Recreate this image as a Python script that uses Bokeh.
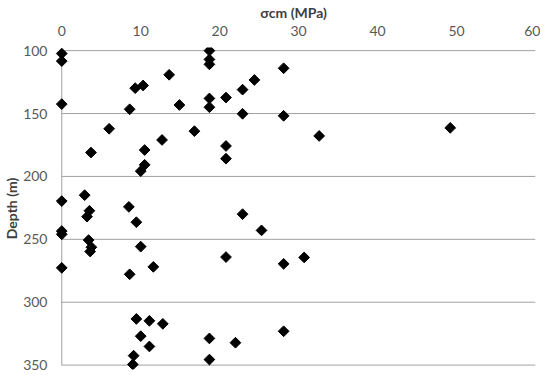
from bokeh.plotting import figure
from bokeh.models import Range1d, FixedTicker
from bokeh.embed import file_html
from bokeh.resources import INLINE
import math

sigma_cm = [0, 0, 0, 18.7, 18.7, 18.7, 13.6, 9.3, 10.3, 14.9, 18.7, 18.7, 20.8, 22.9, 24.4,
            22.9, 8.6, 6.0, 3.7, 10.5, 12.7, 16.8, 20.8, 20.8, 10.5, 10.0, 28.1, 28.1, 32.6, 49.2,
            0, 2.9, 3.5, 3.2, 8.5, 9.45, 0, 0, 3.4, 3.75, 3.6, 10.0, 0, 8.6, 11.6, 20.8, 22.9, 25.3,
            9.45, 11.1, 12.8, 10.0, 11.1, 9.1, 9.0, 18.7, 18.7, 22.0, 28.1, 30.7, 28.1]
depth = [102.3, 108.3, 142.5, 100, 107, 110.9, 119.2, 129.8, 127.7, 143.2, 138, 145, 137.3, 131, 123.3,
         150.2, 146.6, 162.1, 181, 179, 171, 164, 175.8, 185.9, 190.8, 195.8, 114, 151.8, 167.8, 161.4,
         219.6, 214.9, 227.3, 232, 224.2, 236.4, 243.4, 246, 250.6, 256.3, 259.7, 255.8, 272.7, 277.8, 271.9,
         264.1, 230, 242.9, 313.3, 314.8, 317.2, 327, 335.2, 342.5, 349.5, 328.8, 345.6, 332.2, 269.5, 264.4, 323.1]

x_ticks = [0, 10, 20, 30, 40, 50, 60]
depth_ticks = [100, 150, 200, 250, 300, 350]

FONT = "Lato"
GRID = "#a0a0a0"

p = figure(frame_width=484, frame_height=322, output_backend="svg", toolbar_location=None,
           x_axis_location="above",
           x_range=Range1d(-1.3, 60), y_range=Range1d(353.5, 97.5))
p.min_border_left = 45
p.min_border_right = 5
p.min_border_top = 41
p.min_border_bottom = 4
p.outline_line_color = None
p.xgrid.visible = False
p.ygrid.visible = False

# gridlines and vertical axis line
p.segment(x0=[x_ticks[0]] * len(depth_ticks), x1=[x_ticks[-1]] * len(depth_ticks),
          y0=depth_ticks, y1=depth_ticks, line_color=GRID, line_width=1)
p.segment(x0=[x_ticks[0]], x1=[x_ticks[0]], y0=[depth_ticks[0]], y1=[depth_ticks[-1]],
          line_color=GRID, line_width=1)

p.scatter(sigma_cm, depth, marker="square", angle=math.pi / 4, size=7.6,
          fill_color="black", line_color="black")

for ax in (p.xaxis[0], p.yaxis[0]):
    ax.axis_line_color = None
    ax.major_tick_line_color = None
    ax.minor_tick_line_color = None
    ax.major_tick_out = 0
    ax.major_tick_in = 0
    ax.minor_tick_out = 0
    ax.minor_tick_in = 0
    ax.major_label_text_font = FONT
    ax.major_label_text_font_size = "14px"
    ax.major_label_text_color = "#595959"
    ax.axis_label_text_font = FONT
    ax.axis_label_text_font_size = "14px"
    ax.axis_label_text_font_style = "bold"
    ax.axis_label_text_color = "#404040"

p.xaxis[0].ticker = FixedTicker(ticks=x_ticks)
p.yaxis[0].ticker = FixedTicker(ticks=depth_ticks)
p.xaxis[0].axis_label = "σcm (MPa)"
p.yaxis[0].axis_label = "Depth (m)"
p.xaxis[0].major_label_standoff = 12
p.yaxis[0].major_label_standoff = 4
p.xaxis[0].axis_label_standoff = 2
p.yaxis[0].axis_label_standoff = 0

open("out.html", "w").write(file_html(p, INLINE))
